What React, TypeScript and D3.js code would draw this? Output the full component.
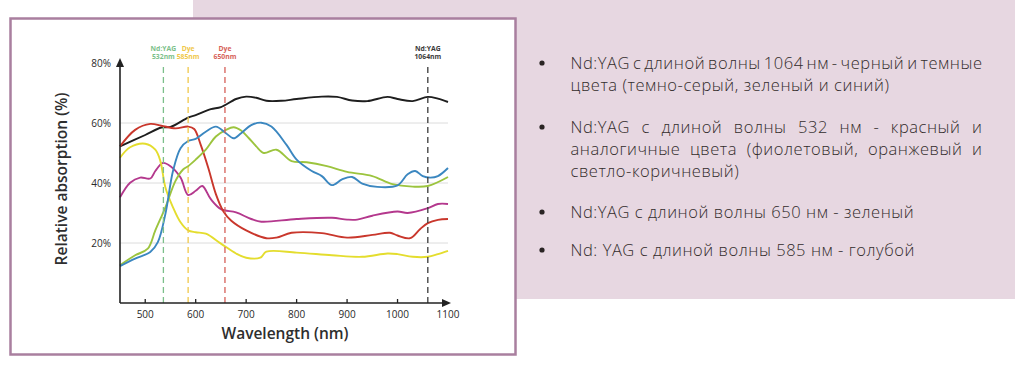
import React, { useEffect, useRef } from 'react';
import * as d3 from 'd3';

type Pt = [number, number];

// wavelength (nm), relative absorption (%)
const blackCurve: Pt[] = [
  [450, 52.2], [500, 56], [532, 58.5], [550, 58.7], [585, 61.8], [600, 62.6], [630, 64.6], [650, 65.3],
  [680, 68], [700, 68.8], [720, 68.4], [740, 67.4], [770, 67.4], [800, 68], [850, 68.8], [880, 68.7],
  [910, 67.5], [940, 67.3], [980, 68.7], [1000, 68], [1030, 67.3], [1060, 68.7], [1080, 68.1], [1100, 67],
];
const redCurve: Pt[] = [
  [450, 52.2], [480, 57.7], [510, 59.7], [532, 59.1], [560, 58.2], [585, 58.8], [597, 58], [610, 52.7],
  [625, 45], [640, 36.3], [655, 30.5], [670, 27.5], [700, 24.2], [740, 21.6], [760, 21.8], [790, 23.4],
  [850, 23.3], [900, 21.8], [950, 22.7], [985, 23.4], [1000, 22.5], [1025, 21.6], [1045, 24.7], [1060, 26.6],
  [1080, 27.7], [1100, 28],
];
const yellowCurve: Pt[] = [
  [450, 48.4], [470, 51.9], [500, 53.1], [520, 51.1], [530, 47.3], [540, 38.5], [555, 31.9], [570, 26.9],
  [585, 24.2], [600, 23.6], [620, 23.1], [650, 19.8], [680, 16.5], [700, 15.1], [728, 15.1], [740, 17.1],
  [800, 16.8], [870, 15.9], [930, 15.4], [980, 16.5], [1000, 16.3], [1030, 15.4], [1060, 15.4], [1080, 16.3],
  [1100, 17.4],
];
const magentaCurve: Pt[] = [
  [450, 35.2], [470, 40.1], [490, 41.8], [510, 41.5], [520, 44], [535, 46.7], [550, 45.6], [570, 41.8],
  [585, 36], [600, 37.4], [613, 39], [630, 34.6], [650, 31.3], [680, 30.2], [710, 28], [730, 27.1],
  [800, 28], [870, 28.4], [900, 27.8], [920, 27.8], [950, 29.1], [1000, 30.5], [1020, 30], [1060, 31.6],
  [1080, 33], [1100, 33],
];
const blueCurve: Pt[] = [
  [450, 12.3], [480, 14.8], [510, 17], [525, 20.3], [540, 29.7], [555, 44], [570, 51.6], [585, 54],
  [600, 54.7], [620, 57.1], [640, 58.8], [660, 56.6], [675, 54.9], [690, 56.6], [710, 59.3], [730, 60.1],
  [750, 58.8], [780, 52.7], [800, 47.8], [830, 44], [850, 42.3], [870, 39.3], [890, 41.2], [910, 42],
  [930, 39.8], [960, 38.7], [1000, 39.2], [1020, 42.9], [1035, 44], [1050, 42.3], [1065, 41.8], [1080, 42.3],
  [1100, 45],
];
const greenCurve: Pt[] = [
  [450, 12.6], [480, 15.9], [505, 18.1], [520, 24.2], [540, 31.9], [560, 40.7], [575, 44.5], [585, 45.6],
  [600, 47.8], [620, 51.1], [640, 55.5], [660, 57.7], [675, 58.6], [690, 57.5], [705, 55], [720, 52.2],
  [735, 50], [760, 51.1], [790, 47.3], [820, 46.9], [860, 45.6], [900, 43.7], [950, 42.3], [990, 39.6],
  [1030, 38.8], [1060, 39], [1100, 42],
];

const seriesList = [
  { key: 'black', color: '#1e1e1e', points: blackCurve },
  { key: 'magenta', color: '#b4388d', points: magentaCurve },
  { key: 'yellow', color: '#e4dd2e', points: yellowCurve },
  { key: 'red', color: '#c9372c', points: redCurve },
  { key: 'green', color: '#9cc43e', points: greenCurve },
  { key: 'blue', color: '#3b87c0', points: blueCurve },
];

const xTicks = [500, 600, 700, 800, 900, 1000, 1100];
const yTicks = [20, 40, 60, 80];
const gridValues = [20, 40, 60];

// laser markers: drawn position (nm), two label lines
const markerPos = [536, 585, 658, 1060];
const markerLine1 = ['Nd:YAG', 'Dye', 'Dye', 'Nd:YAG'];
const markerLine2 = ['532nm', '585nm', '650nm', '1064nm'];
const markerColors = ['#7cbf8a', '#f0c84a', '#d65f58', '#3a3a3a'];

// right-hand notes: each bullet is a list of lines, last line not justified
const notes: string[][] = [
  ['Nd:YAG с длиной волны 1064 нм - черный и темные', 'цвета (темно-серый, зеленый и синий)'],
  ['Nd:YAG с длиной волны 532 нм - красный и', 'аналогичные цвета (фиолетовый, оранжевый и', 'светло-коричневый)'],
  ['Nd:YAG с длиной волны 650 нм - зеленый'],
  ['Nd: YAG с длиной волны 585 нм - голубой'],
];
const noteLineY = [[63, 85.5], [127, 149.5, 171], [212], [250]];

const App: React.FC = () => {
  const svgRef = useRef<SVGSVGElement>(null);

  useEffect(() => {
    if (!svgRef.current) return;
    const svg = d3.select(svgRef.current);
    svg.selectAll('*').remove();

    // backgrounds
    svg.append('rect').attr('width', 1024).attr('height', 366).attr('fill', '#ffffff');
    svg.append('rect').attr('x', 193).attr('y', 0).attr('width', 822).attr('height', 299).attr('fill', '#e7d7e1');
    svg.append('rect')
      .attr('x', 10.5).attr('y', 18.5).attr('width', 505).attr('height', 336)
      .attr('fill', '#ffffff').attr('stroke', '#a97f9f').attr('stroke-width', 2.5);

    const x = d3.scaleLinear().domain([450, 1100]).range([120, 448]);
    const y = d3.scaleLinear().domain([0, 80]).range([303, 63]);

    // grid
    svg.append('g').selectAll('line').data(gridValues).enter().append('line')
      .attr('x1', x(450)).attr('x2', x(1100))
      .attr('y1', d => y(d)).attr('y2', d => y(d))
      .attr('stroke', '#dcdcdc').attr('stroke-width', 1);

    // curves
    const line = d3.line<Pt>()
      .x(d => x(d[0]))
      .y(d => y(d[1]))
      .curve(d3.curveCatmullRom.alpha(0.5));

    svg.append('g').selectAll('path').data(seriesList).enter().append('path')
      .attr('d', d => line(d.points) || '')
      .attr('fill', 'none')
      .attr('stroke', d => d.color)
      .attr('stroke-width', 1.9)
      .attr('stroke-linejoin', 'round');

    // marker dashed lines
    const mk = svg.append('g');
    markerPos.forEach((p, i) => {
      mk.append('line')
        .attr('x1', x(p)).attr('x2', x(p))
        .attr('y1', 67).attr('y2', y(0))
        .attr('stroke', markerColors[i]).attr('stroke-width', 1.3)
        .attr('stroke-dasharray', '6,4');
      const t = mk.append('text')
        .attr('x', x(p)).attr('text-anchor', 'middle')
        .attr('font-family', '"Open Sans", sans-serif').attr('font-weight', 700)
        .attr('font-size', 6.8).attr('fill', markerColors[i]);
      t.append('tspan').attr('x', x(p)).attr('y', 50.5).text(markerLine1[i]);
      t.append('tspan').attr('x', x(p)).attr('y', 58.5).text(markerLine2[i]);
    });

    // axes
    const ax = svg.append('g').attr('stroke', '#222').attr('stroke-width', 1.6);
    ax.append('line').attr('x1', x(450)).attr('x2', x(450)).attr('y1', y(0)).attr('y2', 64);
    ax.append('line').attr('x1', x(450)).attr('x2', 444).attr('y1', y(0)).attr('y2', y(0));
    svg.append('path')
      .attr('d', `M${x(450)},58 L${x(450) - 4},67 L${x(450) + 4},67 Z`).attr('fill', '#222');
    svg.append('path')
      .attr('d', `M451,${y(0)} L442,${y(0) - 4} L442,${y(0) + 4} Z`).attr('fill', '#222');

    svg.append('g').selectAll('line').data(xTicks.slice(0, -1)).enter().append('line')
      .attr('x1', d => x(d)).attr('x2', d => x(d))
      .attr('y1', y(0)).attr('y2', y(0) - 4)
      .attr('stroke', '#222').attr('stroke-width', 1.3);

    svg.append('g').selectAll('text').data(xTicks).enter().append('text')
      .attr('x', d => x(d)).attr('y', 318)
      .attr('text-anchor', 'middle')
      .attr('font-family', '"Open Sans", sans-serif').attr('font-size', 10).attr('font-weight', 500)
      .attr('fill', '#2a2a2a')
      .text(d => d);

    svg.append('g').selectAll('text').data(yTicks).enter().append('text')
      .attr('x', 111).attr('y', d => y(d) + 3.5)
      .attr('text-anchor', 'end')
      .attr('font-family', '"Open Sans", sans-serif').attr('font-size', 10).attr('font-weight', 500)
      .attr('fill', '#2a2a2a')
      .text(d => `${d}%`);

    svg.append('text')
      .attr('x', 285).attr('y', 339)
      .attr('text-anchor', 'middle')
      .attr('font-family', '"Open Sans", sans-serif').attr('font-size', 15.5).attr('font-weight', 600)
      .attr('fill', '#2e2e2e')
      .text('Wavelength (nm)');

    svg.append('text')
      .attr('transform', 'translate(67,179) rotate(-90)')
      .attr('text-anchor', 'middle')
      .attr('font-family', '"Open Sans", sans-serif').attr('font-size', 15.5).attr('font-weight', 600)
      .attr('fill', '#2e2e2e')
      .text('Relative absorption (%)');

    // notes on the right
    const textLeft = 570.5;
    const textRight = 982.5;
    const ng = svg.append('g')
      .attr('font-family', '"Open Sans", sans-serif').attr('font-size', 16.5).attr('font-weight', 300)
      .attr('letter-spacing', 0.55)
      .attr('fill', '#332c2c');
    notes.forEach((lines, bi) => {
      ng.append('circle').attr('cx', 542).attr('cy', noteLineY[bi][0]).attr('r', 2.6).attr('fill', '#2a2424');
      lines.forEach((ln, li) => {
        const t = ng.append('text')
          .attr('x', textLeft).attr('y', noteLineY[bi][li] + 5.5)
          .text(ln);
        const isLast = li === lines.length - 1;
        if (!isLast) {
          const node = t.node() as SVGTextElement;
          const w = node.getComputedTextLength();
          const gaps = ln.split(' ').length - 1;
          if (gaps > 0) t.attr('word-spacing', (textRight - textLeft - w) / gaps);
        }
      });
    });
  }, []);

  return (
    <svg
      ref={svgRef}
      width={1024}
      height={366}
      style={{ position: 'absolute', left: 0, top: 0, display: 'block' }}
    />
  );
};

export default App;
